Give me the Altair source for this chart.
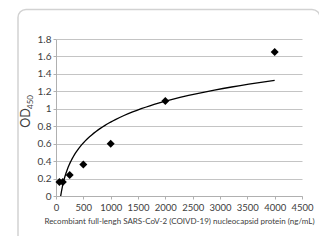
import altair as alt
import pandas as pd

conc = [62.5, 125, 250, 500, 1000, 2000, 4000]
od = [0.16, 0.16, 0.24, 0.36, 0.60, 1.09, 1.65]

x_ticks = [0, 500, 1000, 1500, 2000, 2500, 3000, 3500, 4000, 4500]
y_ticks = [0, 0.2, 0.4, 0.6, 0.8, 1, 1.2, 1.4, 1.6, 1.8]

df = pd.DataFrame({"conc": conc, "od": od})
FONT = "Lato"
TXT = "#404040"

x_enc = alt.X("conc:Q",
              scale=alt.Scale(domain=[0, 4500], nice=False),
              axis=alt.Axis(values=x_ticks, grid=False, format="d", labelOverlap=False,
                            labelFlush=False,
                            title="Recombiant full-lengh SARS-CoV-2 (COIVD-19) nucleocapsid protein (ng/mL)",
                            titleFontSize=8, titleFontWeight="normal", titlePadding=6,
                            labelFontSize=9.5, tickSize=3, labelPadding=3,
                            domainColor="#b0b0b0", tickColor="#b0b0b0"))
y_enc = alt.Y("od:Q",
              scale=alt.Scale(domain=[0, 1.8], nice=False),
              axis=alt.Axis(values=y_ticks, grid=True, gridColor="#c4c4c4", format=".1~f",
                            labelOverlap=False, labelFlush=False,
                            title="OD", titleFontSize=12.5, titleFontWeight="normal",
                            titlePadding=5,
                            labelFontSize=10, tickSize=3, labelPadding=2,
                            domainColor="#b0b0b0", tickColor="#b0b0b0"))

base = alt.Chart(df).encode(x=x_enc, y=y_enc)

points = base.mark_point(shape="diamond", filled=True, color="black", size=64, opacity=1)

trend = base.transform_regression("conc", "od", method="log").mark_line(
    color="black", strokeWidth=1.3, clip=True)

border = alt.Chart(pd.DataFrame({"a": [0]})).mark_rect(
    fill="transparent", stroke="#d2d2d2", strokeWidth=1.5, cornerRadius=8).encode(
    x=alt.value(-38), x2=alt.value(264), y=alt.value(-29.5), y2=alt.value(240))

sub = alt.Chart(pd.DataFrame({"t": ["450"]})).mark_text(
    angle=270, fontSize=8, font=FONT, color=TXT).encode(
    text="t:N", x=alt.value(-25), y=alt.value(63))

chart = alt.layer(border, trend, points, sub).properties(
    width=246, height=157,
    autosize=alt.AutoSizeParams(type="none"),
    padding={"left": 48, "top": 31, "right": 17, "bottom": 40},
).configure_axis(
    labelFont=FONT, titleFont=FONT, labelColor=TXT, titleColor=TXT
).configure_view(stroke=None)

chart.save("out.html", embed_options={"renderer": "svg", "actions": False})
